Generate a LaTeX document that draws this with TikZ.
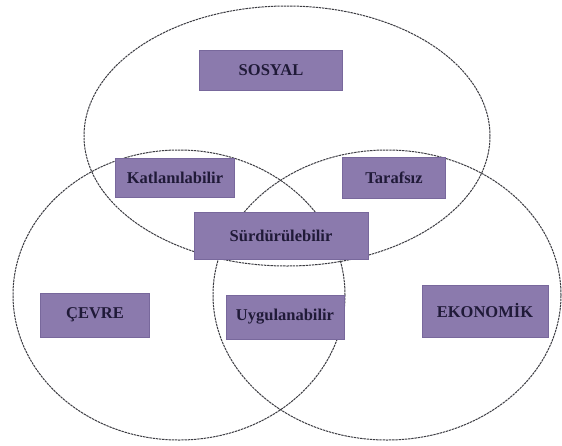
\documentclass[tikz,border=0pt]{standalone}
\usepackage{fontspec}
\setmainfont{Liberation Serif}
\usetikzlibrary{
	positioning		% relative placement
	, shapes.geometric	% ellipse shape
}
\definecolor{boxpurple}{RGB}{139,122,173}
\definecolor{boxedge}{RGB}{120,104,156}
\definecolor{boxtext}{RGB}{32,26,56}
\definecolor{setline}{RGB}{60,60,66}

\begin{document}
\begin{tikzpicture}[
		x=1pt, y=-1pt
		, set/.style={draw=setline, line width=1pt, dash pattern=on 2.4pt off 0.8pt, ellipse, inner sep=0pt}
		, label box/.style 2 args={draw=boxedge, line width=0.4pt, fill=boxpurple, text=boxtext,
			font=\bfseries\fontsize{16.5}{19}\selectfont, inner sep=0pt,
			minimum width=#1pt, minimum height=#2pt}
	]
	\useasboundingbox (0,0) rectangle (562,445);

	% Draw the three overlapping sets
	\node [set, minimum width=406pt, minimum height=260pt] (sosyalset) at (287,136) {};
	\node [set, minimum width=332pt, minimum height=290pt] (cevreset) at (179,295) {};
	\node [set, minimum width=348pt, minimum height=290pt] (ekonomikset) at (387,295) {};

	% Loop through each of our labels
	\foreach \name/\pos/\w/\h/\txt in {
		sosyal/{271,70}/143/40/SOSYAL,
		katlan/{175,178}/119/39/Katlanılabilir,
		tarafsiz/{394,178}/103/41/Tarafsız,
		surdur/{281,236}/174/47/Sürdürülebilir,
		cevre/{95,315}/109/44/ÇEVRE,
		uygula/{285,317}/118/44/Uygulanabilir,
		ekonomik/{485,311}/126/52/EKONOMİK} {
		\node [label box={\w}{\h}] (\name) at (\pos) {\txt};
	};
\end{tikzpicture}
\end{document}
